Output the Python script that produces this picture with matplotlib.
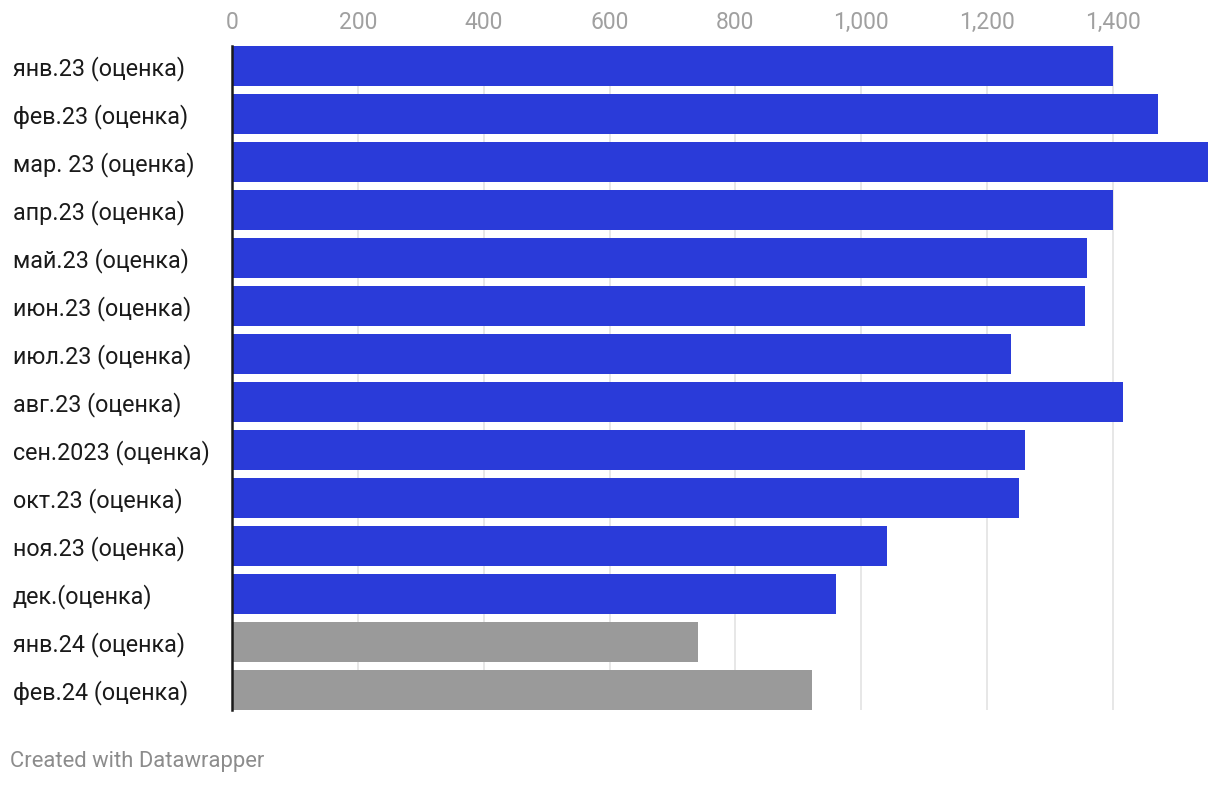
import matplotlib.pyplot as plt
import matplotlib as mpl

mpl.rc('font', family=['Roboto', 'DejaVu Sans'])

# данные (оценка)
months = ['янв.23 (оценка)', 'фев.23 (оценка)', 'мар. 23 (оценка)', 'апр.23 (оценка)',
          'май.23 (оценка)', 'июн.23 (оценка)', 'июл.23 (оценка)', 'авг.23 (оценка)',
          'сен.2023 (оценка)', 'окт.23 (оценка)', 'ноя.23 (оценка)', 'дек.(оценка)',
          'янв.24 (оценка)', 'фев.24 (оценка)']
values = [1400, 1471, 1551, 1400, 1359, 1356, 1238, 1416, 1260, 1251, 1041, 960, 740, 922]
n_gray = 2  # последние два месяца серым

blue = '#2a3bd9'
gray = '#9a9a9a'
colors = [blue] * (len(values) - n_gray) + [gray] * n_gray

fig = plt.figure(figsize=(12.2, 7.86), dpi=100)
ax = fig.add_axes([232 / 1220, 1 - 710 / 786, (1208 - 232) / 1220, (710 - 46) / 786])

h = 40 / 48
ypos = list(range(len(values)))
ax.barh(ypos, values, height=h, color=colors, zorder=2)

ax.set_xlim(0, max(values))
ax.set_ylim(len(values) - 1 + h / 2, -h / 2)

ticks = [0, 200, 400, 600, 800, 1000, 1200, 1400]
ax.set_xticks(ticks)
ax.set_xticklabels([f'{t:,}' for t in ticks])
ax.xaxis.tick_top()
ax.tick_params(axis='x', length=0, pad=8.5, labelsize=16.5, labelcolor='#a0a0a0')
ax.grid(axis='x', color='#e5e5e5', linewidth=1.3, zorder=0)

ax.set_yticks(ypos)
ax.set_yticklabels(months, ha='left', va='center_baseline')
ax.tick_params(axis='y', length=0, pad=158, labelsize=16.8, labelcolor='#1a1a1a')

for s in ['top', 'right', 'bottom']:
    ax.spines[s].set_visible(False)
ax.spines['left'].set_color('#1a1a1a')
ax.spines['left'].set_linewidth(1.8)
ax.spines['left'].set_zorder(3)

fig.text(10 / 1220, 1 - 762 / 786, 'Created with Datawrapper', fontsize=15.8,
         color='#8c8c8c', va='center', ha='left')

plt.savefig('out.png', dpi=100)
